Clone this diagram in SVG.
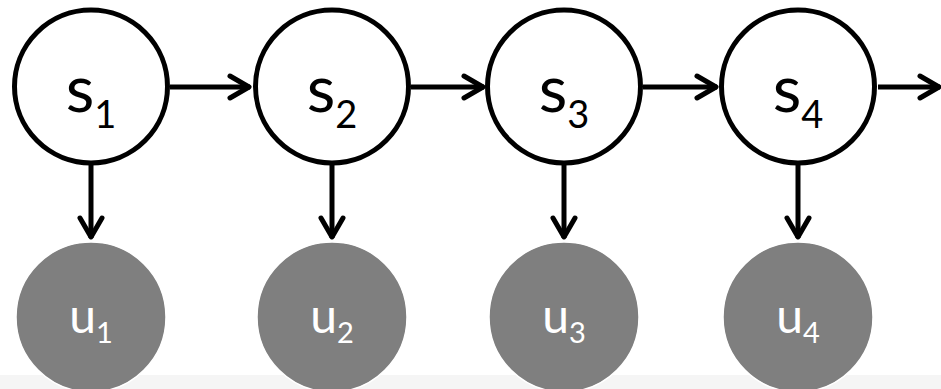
<svg xmlns="http://www.w3.org/2000/svg" width="941" height="389" viewBox="0 0 941 389">
<style>
.s{fill:#fff;stroke:#000;stroke-width:5}
.u{fill:#7f7f7f;stroke:#fff;stroke-width:1.5}
.st{font-family:Lato,"Open Sans",sans-serif;font-size:66px;fill:#000}
.ut{font-family:Lato,"Open Sans",sans-serif;font-size:48px;fill:#fff}
.e{stroke:#000;stroke-width:5;fill:none}
</style>
<defs>
<marker id="ah" markerUnits="userSpaceOnUse" markerWidth="40" markerHeight="40" viewBox="-30 -20 40 40" refX="0" refY="0" orient="auto" overflow="visible">
<path d="M-20,-11 L-1,0 L-20,11" fill="none" stroke="#000" stroke-width="5" stroke-linecap="round" stroke-linejoin="round"/>
</marker>
</defs>
<rect x="0" y="0" width="941" height="389" fill="#fff"/>
<rect x="0" y="375" width="941" height="14" fill="#f5f5f5"/>
<g id="connectors">
<path class="e" d="M170,87 H250" marker-end="url(#ah)"/>
<path class="e" d="M411,87 H484" marker-end="url(#ah)"/>
<path class="e" d="M643,87 H717" marker-end="url(#ah)"/>
<path class="e" d="M878,87 H940" marker-end="url(#ah)"/>
<path class="e" d="M91,165 V238" marker-end="url(#ah)"/>
<path class="e" d="M332,165 V238" marker-end="url(#ah)"/>
<path class="e" d="M564,165 V238" marker-end="url(#ah)"/>
<path class="e" d="M798,165 V238" marker-end="url(#ah)"/>
</g>
<g id="s1"><circle class="s" cx="91" cy="86.5" r="76.5"/><text class="st" x="91" y="112" text-anchor="middle">s<tspan font-size="38px" dy="16">1</tspan></text></g>
<g id="s2"><circle class="s" cx="332" cy="86.5" r="76.5"/><text class="st" x="332" y="112" text-anchor="middle">s<tspan font-size="38px" dy="16">2</tspan></text></g>
<g id="s3"><circle class="s" cx="564" cy="86.5" r="76.5"/><text class="st" x="564" y="112" text-anchor="middle">s<tspan font-size="38px" dy="16">3</tspan></text></g>
<g id="s4"><circle class="s" cx="798" cy="86.5" r="76.5"/><text class="st" x="798" y="112" text-anchor="middle">s<tspan font-size="38px" dy="16">4</tspan></text></g>
<g id="u1"><circle class="u" cx="91" cy="317" r="75"/><text class="ut" x="91" y="333" text-anchor="middle">u<tspan font-size="29px" dy="10">1</tspan></text></g>
<g id="u2"><circle class="u" cx="332" cy="317" r="75"/><text class="ut" x="332" y="333" text-anchor="middle">u<tspan font-size="29px" dy="10">2</tspan></text></g>
<g id="u3"><circle class="u" cx="564" cy="317" r="75"/><text class="ut" x="564" y="333" text-anchor="middle">u<tspan font-size="29px" dy="10">3</tspan></text></g>
<g id="u4"><circle class="u" cx="798" cy="317" r="75"/><text class="ut" x="798" y="333" text-anchor="middle">u<tspan font-size="29px" dy="10">4</tspan></text></g>
</svg>
